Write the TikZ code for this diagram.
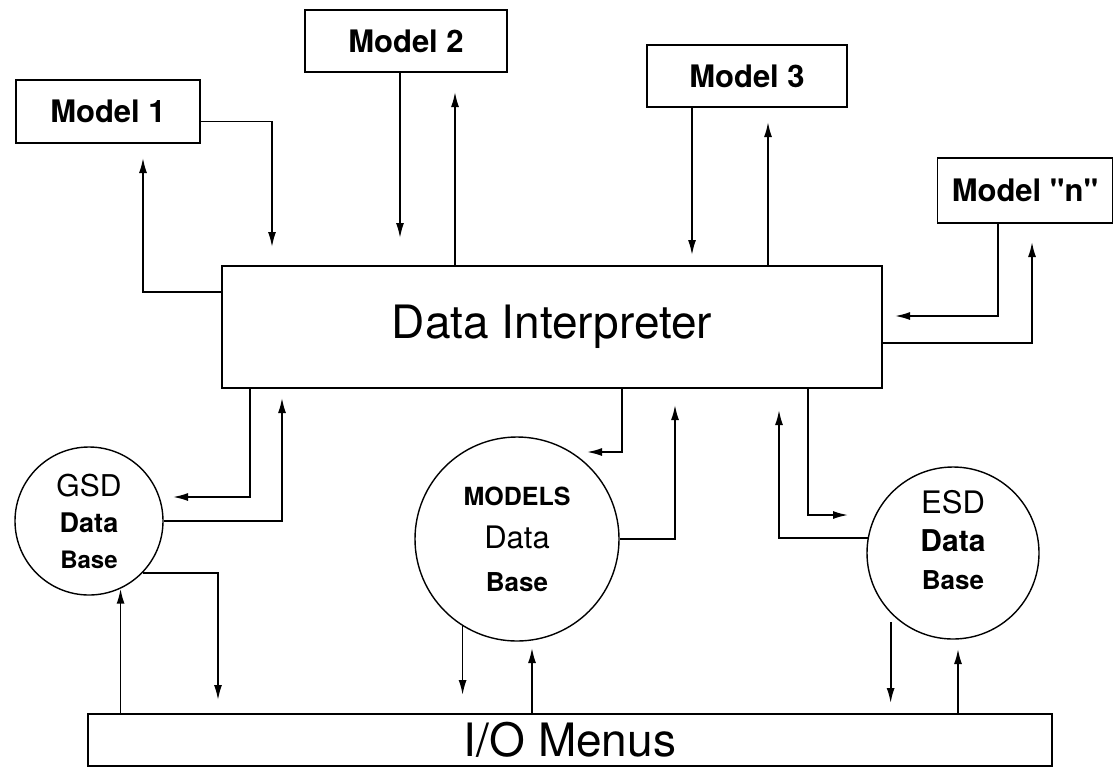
\documentclass[tikz,border=0pt]{standalone}
\usepackage{fontspec}
\setmainfont{TeX Gyre Heros}
\usetikzlibrary{arrows.meta}

\begin{document}
\begin{tikzpicture}[x=1pt, y=-1pt,
        modelbox/.style={draw, line width=1.6pt, inner sep=0pt, font=\fontsize{31}{34}\selectfont\bfseries},
        bigbox/.style={draw, line width=1.6pt, inner sep=0pt, font=\fontsize{46}{50}\selectfont},
        dbase/.style={draw, circle, line width=1.4pt, inner sep=0pt, align=center},
        arr/.style={-{Latex[length=15pt, width=8pt]}, line width=1.7pt}]
    \useasboundingbox (0,0) rectangle (1115,780);
    % boxes and data bases
    \node[modelbox, minimum width=184, minimum height=63] (m1) at (108,111.5) {Model 1};
    \node[modelbox, minimum width=202, minimum height=62] (m2) at (406,41) {Model 2};
    \node[modelbox, minimum width=200, minimum height=62] (m3) at (747,76) {Model 3};
    \node[modelbox, minimum width=175, minimum height=65] (mn) at (1025,190.5) {Model \textquotedbl n\textquotedbl};
    \node[bigbox, minimum width=660, minimum height=122] (di) at (552,327) {Data Interpreter};
    \node[bigbox, minimum width=964, minimum height=52] (io) at (570,740) {I/O Menus};
    \node[dbase, minimum size=148, font=\fontsize{30}{36}\selectfont] (gsd) at (89,521)
        {GSD\\ \bfseries\fontsize{27}{36}\selectfont Data\\ \bfseries\fontsize{24}{36}\selectfont Base};
    \node[dbase, minimum size=204, font=\fontsize{25}{43}\selectfont] (mdb) at (517,539)
        {\bfseries MODELS\\ \fontsize{31}{43}\selectfont Data\\ \bfseries\fontsize{26}{43}\selectfont Base};
    \node[dbase, minimum size=172, font=\fontsize{31}{38}\selectfont] (esd) at (953,553)
        {ESD\\ \bfseries\fontsize{30}{38}\selectfont Data\\ \bfseries\fontsize{26}{38}\selectfont Base\\[-12pt]};
    % arrow tips
    \coordinate (t1) at (272,247);
    \coordinate (t2) at (143,158);
    \coordinate (t3) at (400,238);
    \coordinate (t4) at (455,92);
    \coordinate (t5) at (692,255);
    \coordinate (t6) at (768,122);
    \coordinate (t7) at (895,316);
    \coordinate (t8) at (1032,242);
    \coordinate (t9) at (173,497);
    \coordinate (t10) at (282,398);
    \coordinate (t11) at (587,452);
    \coordinate (t12) at (675,405);
    \coordinate (t13) at (848,515);
    \coordinate (t14) at (779,410);
    \coordinate (t15) at (218,700);
    \coordinate (t17) at (463,695);
    \coordinate (t18) at (532,648);
    \coordinate (t19) at (893,703);
    \coordinate (t20) at (958,649);
    % models <-> interpreter
    \draw[arr] ([yshift=-10pt]m1.east) -| (t1);
    \draw[arr] ([yshift=35pt]di.west) -| (t2);
    \draw[arr] (m2.south -| t3) -- (t3);
    \draw[arr] (t4 |- di.north) -- (t4);
    \draw[arr] (m3.south -| t5) -- (t5);
    \draw[arr] (t6 |- di.north) -- (t6);
    \draw[arr] ([xshift=-27pt]mn.south) |- (t7);
    \draw[arr] ([yshift=-16pt]di.east) -| (t8);
    % interpreter <-> data bases
    \draw[arr] ([xshift=29pt]di.south west) |- (t9);
    \draw[arr] (gsd.east) -| (t10);
    \draw[arr] ([xshift=70pt]di.south) |- (t11);
    \draw[arr] (mdb.east) -| (t12);
    \draw[arr] ([xshift=256pt]di.south) |- (t13);
    \draw[arr] (esd.170) -| (t14);
    % data bases <-> menus
    \draw[arr] (gsd.-44) -| (t15);
    \draw[arr] (io.north -| gsd.-65) -- (gsd.-65);
    \draw[arr] (mdb.-122) -- (mdb.-122 |- t17);
    \draw[arr] (io.north -| t18) -- (t18);
    \draw[arr] (esd.-136 |- 0,622) -- (esd.-136 |- t19);
    \draw[arr] (io.north -| t20) -- (t20);
\end{tikzpicture}
\end{document}
